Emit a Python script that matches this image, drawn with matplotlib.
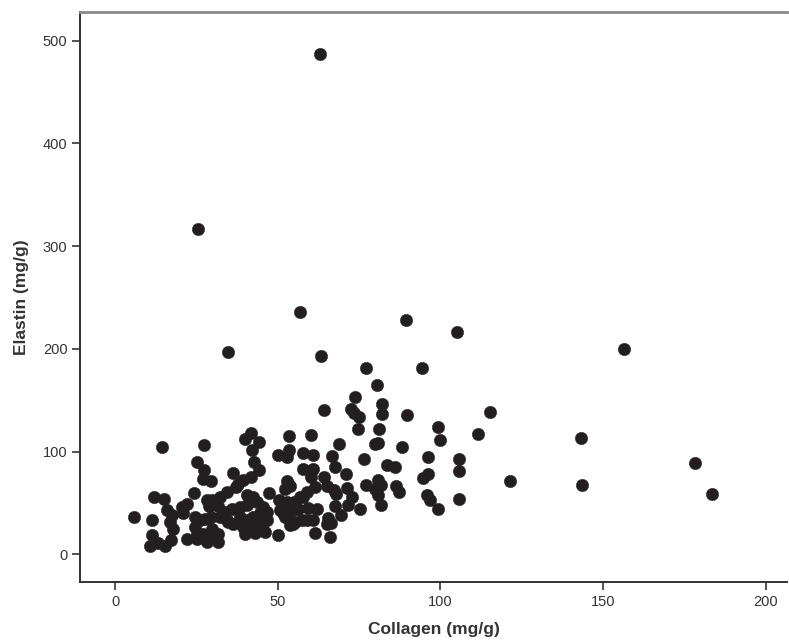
import matplotlib
matplotlib.use("Agg")
import matplotlib.pyplot as plt

# === Dati ===
collagen = [
    63.0, 25.5, 56.8, 89.3, 105.2, 34.7, 63.3, 94.4, 77.2, 156.5,
    115.3, 121.4, 143.2, 143.4, 178.1, 183.5,
    80.4, 73.8, 81.9, 64.1, 72.4, 73.4, 75.1, 81.9, 89.8, 74.7,
    81.0, 99.2, 99.8, 111.6, 53.4, 60.2, 41.7, 39.8, 44.1, 14.3,
    27.3, 42.1, 68.7, 79.9, 80.7, 88.3, 50.0, 53.5, 52.9, 57.8,
    60.9, 66.7, 76.4, 96.1, 105.8, 25.2, 42.6, 27.3, 26.9, 29.6,
    36.3, 44.2, 41.8, 39.4, 37.3, 57.8, 60.8, 60.2, 67.7, 71.0,
    83.6, 86.0, 105.7, 96.3, 94.7, 64.1, 52.9, 53.8, 52.1, 77.0,
    80.7, 81.7, 79.9, 80.9, 81.6, 86.2, 87.3, 71.2, 61.4, 58.9,
    57.8, 65.2, 67.2, 67.9, 72.8, 71.5, 95.8, 96.8, 105.6, 99.2,
    75.2, 67.7, 69.4, 12.0, 15.1, 24.1, 34.4, 32.3, 28.3, 28.7,
    47.2, 40.5, 42.5, 43.5, 50.5, 52.8, 55.1, 59.4, 62.0, 5.9,
    11.3, 11.3, 15.9, 17.5, 16.9, 17.9, 20.5, 22.0, 21.0, 24.6,
    26.1, 27.6, 29.5, 24.6, 25.1, 27.1, 28.7, 30.7, 22.0, 25.1,
    28.2, 31.7, 10.8, 13.3, 15.4, 17.2, 31.7, 33.8, 32.3, 34.3,
    36.3, 35.9, 38.4, 40.5, 38.4, 40.5, 42.5, 44.5, 46.6, 39.4,
    42.5, 45.1, 46.6, 39.9, 43.0, 46.1, 50.2, 50.7, 51.7, 53.8,
    55.8, 53.8, 55.3, 57.4, 58.9, 60.9, 61.5, 65.0, 65.5, 66.3,
    66.1, 45.5, 42.0, 44.5, 31.7, 29.7, 34.8, 52.2, 54.8, 56.8,
    56.3, 37.9, 29.7,
]
elastin = [
    487.3, 316.8, 235.9, 227.8, 216.4, 196.9, 193.0, 181.6, 181.0, 199.5,
    138.1, 71.8, 112.8, 67.9, 88.4, 58.2,
    165.0, 152.7, 146.5, 140.4, 141.0, 137.1, 133.8, 136.5, 135.8, 121.8,
    121.5, 124.1, 110.8, 116.7, 115.3, 115.7, 117.6, 112.1, 109.8, 104.6,
    106.5, 101.7, 106.9, 107.2, 107.9, 104.0, 96.5, 102.0, 94.8, 98.7,
    96.5, 95.5, 92.3, 94.5, 92.9, 90.0, 90.0, 81.9, 73.4, 71.2,
    79.2, 81.9, 75.3, 72.8, 65.6, 82.6, 82.8, 75.3, 84.5, 77.7,
    86.7, 84.5, 81.2, 77.7, 74.4, 74.8, 71.4, 66.3, 64.0, 67.5,
    72.1, 67.3, 64.0, 57.5, 47.8, 66.6, 60.7, 65.0, 65.6, 60.7,
    55.3, 66.3, 62.4, 58.2, 55.3, 47.8, 57.5, 52.6, 53.6, 44.5,
    43.6, 47.1, 38.7, 55.8, 53.6, 59.2, 60.7, 55.8, 53.3, 46.8,
    59.2, 57.5, 55.8, 51.0, 52.6, 51.0, 51.0, 45.5, 44.5, 36.4,
    33.8, 19.2, 42.9, 38.0, 31.5, 25.0, 46.1, 48.7, 39.7, 36.4,
    33.1, 34.8, 36.4, 26.6, 20.2, 20.2, 18.5, 18.5, 15.3, 14.9,
    11.7, 11.7, 8.1, 11.4, 8.1, 13.6, 46.8, 41.2, 36.4, 33.1,
    29.9, 44.5, 46.1, 47.8, 36.4, 33.1, 36.4, 39.7, 41.2, 26.6,
    26.6, 28.3, 33.1, 20.2, 20.8, 21.7, 18.5, 42.9, 39.7, 41.2,
    44.5, 28.3, 31.5, 33.1, 33.1, 33.8, 20.8, 29.9, 35.8, 30.5,
    16.9, 46.1, 28.3, 29.9, 20.2, 25.0, 31.5, 36.4, 29.9, 55.8,
    44.5, 68.9, 52.6,
]
x_ticks = [0, 50, 100, 150, 200]
y_ticks = [0, 100, 200, 300, 400, 500]

plt.rcParams['font.family'] = ['Liberation Sans Narrow', 'Liberation Sans', 'DejaVu Sans']

fig = plt.figure(figsize=(7.89, 6.44), dpi=100)
ax = fig.add_axes([80 / 789, 62 / 644, 707 / 789, 570 / 644])

ax.scatter(collagen, elastin, s=80, color='#231f20', edgecolors='#231f20',
           linewidths=0.3, zorder=3)

ax.set_xlim(-10.8, 206.5)
ax.set_ylim(-27, 528)
ax.set_xticks(x_ticks)
ax.set_yticks(y_ticks)

# === Cornice stile SPSS ===
ax.spines['right'].set_visible(False)
ax.spines['top'].set_color('#8a8a8a')
ax.spines['top'].set_linewidth(2)
for s in ('left', 'bottom'):
    ax.spines[s].set_color('#333333')
    ax.spines[s].set_linewidth(1.4)

ax.tick_params(direction='out', length=6, width=1.2, color='#333333',
               labelsize=10.5, labelcolor='#333333', pad=3)

ax.set_xlabel('Collagen (mg/g)', fontsize=12.5, fontweight='bold',
              color='#333333', labelpad=10)
ax.set_ylabel('Elastin (mg/g)', fontsize=12.5, fontweight='bold',
              color='#333333', labelpad=10)

plt.savefig('out.png', dpi=100)
plt.close()
